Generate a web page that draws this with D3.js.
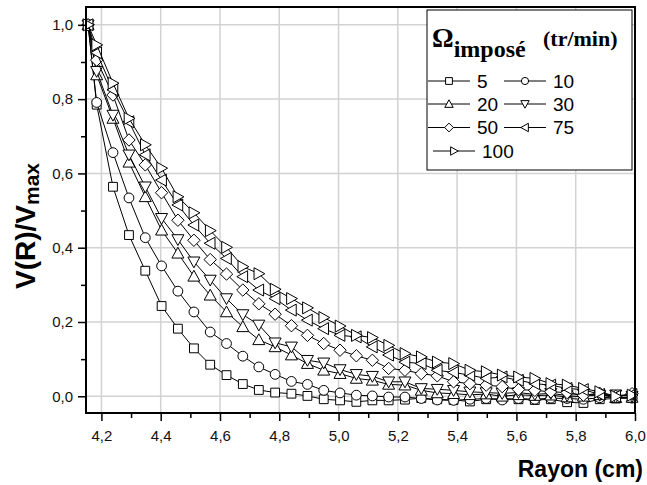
<!DOCTYPE html>
<html>
<head>
<meta charset="utf-8">
<script src="https://cdn.jsdelivr.net/npm/d3@7"></script>
<style>
  html, body { margin: 0; padding: 0; background: #fff; }
  #chart svg { display: block; }
  .tick-label { font-family: "Liberation Sans", Arial, sans-serif; font-size: 15px; fill: #111; }
</style>
</head>
<body>
<div id="chart"></div>
<script>
// Rayon (cm) - wall point first, then the measured radii
const RAYON = [4.155, 4.184, 4.239, 4.293, 4.348, 4.403, 4.458, 4.512, 4.567, 4.622, 4.677,
  4.731, 4.786, 4.841, 4.895, 4.950, 5.005, 5.060, 5.114, 5.169, 5.224, 5.279, 5.333,
  5.388, 5.443, 5.498, 5.552, 5.607, 5.662, 5.716, 5.771, 5.826, 5.881, 5.935, 5.990];

const V_5 = [1.0, 0.785, 0.564, 0.434, 0.338, 0.243, 0.182, 0.129, 0.085, 0.057, 0.033,
  0.017, 0.010, 0.007, 0.001, -0.008, -0.011, -0.015, -0.011, -0.011, -0.009, -0.005,
  -0.008, -0.010, -0.014, -0.008, -0.006, -0.008, -0.010, -0.008, -0.016, -0.018, -0.008, -0.006, -0.005];
const V_10 = [1.0, 0.791, 0.656, 0.534, 0.427, 0.351, 0.283, 0.227, 0.173, 0.142, 0.108,
  0.079, 0.059, 0.040, 0.032, 0.016, 0.009, 0.003, 0.001, -0.002, -0.002, -0.006,
  -0.010, -0.011, -0.008, -0.006, -0.010, -0.006, -0.008, -0.005, -0.006, -0.008, -0.004, -0.002, -0.005];
const V_20 = [1.0, 0.865, 0.748, 0.630, 0.537, 0.447, 0.385, 0.323, 0.272, 0.227, 0.187,
  0.152, 0.133, 0.111, 0.088, 0.070, 0.061, 0.048, 0.043, 0.032, 0.030, 0.016,
  0.009, 0.007, 0.004, 0.006, 0.000, 0.004, 0.002, 0.003, -0.002, 0.000, 0.004, -0.004, -0.003];
const V_30 = [1.0, 0.875, 0.757, 0.650, 0.564, 0.479, 0.422, 0.362, 0.313, 0.263, 0.220,
  0.192, 0.144, 0.133, 0.097, 0.090, 0.072, 0.059, 0.054, 0.039, 0.039, 0.021,
  0.019, 0.016, 0.012, 0.010, 0.008, 0.010, 0.005, 0.008, 0.002, 0.006, 0.003, 0.004, 0.000];
const V_50 = [1.0, 0.905, 0.811, 0.690, 0.623, 0.548, 0.474, 0.420, 0.368, 0.329, 0.286,
  0.249, 0.221, 0.190, 0.164, 0.142, 0.124, 0.109, 0.097, 0.075, 0.070, 0.061,
  0.055, 0.039, 0.034, 0.030, 0.026, 0.018, 0.016, 0.012, 0.010, 0.003, 0.008, 0.000, 0.007];
const V_75 = [1.0, 0.925, 0.825, 0.739, 0.650, 0.582, 0.515, 0.461, 0.412, 0.371, 0.322,
  0.286, 0.263, 0.232, 0.205, 0.182, 0.164, 0.160, 0.133, 0.111, 0.092, 0.088,
  0.070, 0.064, 0.057, 0.048, 0.052, 0.043, 0.034, 0.030, 0.021, 0.018, 0.005, 0.000, 0.005];
const V_100 = [1.0, 0.946, 0.843, 0.748, 0.677, 0.614, 0.537, 0.494, 0.446, 0.401, 0.349,
  0.330, 0.288, 0.263, 0.238, 0.212, 0.189, 0.164, 0.158, 0.137, 0.115, 0.106,
  0.092, 0.088, 0.070, 0.066, 0.057, 0.052, 0.048, 0.034, 0.030, 0.021, 0.012, 0.000, 0.003];

const SERIES_LABELS = ["5", "10", "20", "30", "50", "75", "100"];
const SERIES_VALUES = [V_5, V_10, V_20, V_30, V_50, V_75, V_100];
const SERIES_SHAPES = ["square", "circle", "up", "down", "diamond", "left", "right"];

const X_TICKS = [4.2, 4.4, 4.6, 4.8, 5.0, 5.2, 5.4, 5.6, 5.8, 6.0];
const X_MINOR = [4.3, 4.5, 4.7, 4.9, 5.1, 5.3, 5.5, 5.7, 5.9];
const Y_TICKS = [0.0, 0.2, 0.4, 0.6, 0.8, 1.0];
const Y_MINOR = [0.1, 0.3, 0.5, 0.7, 0.9];

// custom d3 symbol types, "size" is used as half width in px
const SHAPES = {
  square: { draw(c, h) { c.rect(-h, -h, 2 * h, 2 * h); } },
  circle: { draw(c, h) { c.moveTo(h, 0); c.arc(0, 0, h, 0, 2 * Math.PI); } },
  up: { draw(c, h) { c.moveTo(0, -h); c.lineTo(h, h * 0.8); c.lineTo(-h, h * 0.8); c.closePath(); } },
  down: { draw(c, h) { c.moveTo(0, h); c.lineTo(h, -h * 0.8); c.lineTo(-h, -h * 0.8); c.closePath(); } },
  left: { draw(c, h) { c.moveTo(-h, 0); c.lineTo(h * 0.8, -h); c.lineTo(h * 0.8, h); c.closePath(); } },
  right: { draw(c, h) { c.moveTo(h, 0); c.lineTo(-h * 0.8, -h); c.lineTo(-h * 0.8, h); c.closePath(); } },
  diamond: { draw(c, h) { c.moveTo(0, -h); c.lineTo(h, 0); c.lineTo(0, h); c.lineTo(-h, 0); c.closePath(); } }
};
const PLOT_SIZE = { square: 4.4, circle: 4.9, up: 6, down: 6, diamond: 6.2, left: 6, right: 6 };
const LEGEND_SIZE = { square: 3.4, circle: 3.6, up: 4.2, down: 4.2, diamond: 4.4, left: 4.2, right: 4.2 };

renderChart();

function renderChart() {
  const W = 647, H = 485;
  const plot = { left: 86, right: 635, top: 7, bottom: 413 };
  const sans = "'Liberation Sans', Arial, sans-serif";
  const serif = "'Liberation Serif', 'Times New Roman', serif";

  const svg = d3.select("#chart").append("svg")
    .attr("width", W)
    .attr("height", H);

  const x = d3.scaleLinear().domain([4.148, 6.0]).range([plot.left, plot.right]);
  const y = d3.scaleLinear().domain([-0.045, 1.048]).range([plot.bottom, plot.top]);
  const fmt = d => d3.format(".1f")(d).replace(".", ",");

  // grid
  svg.append("g")
    .selectAll("line")
    .data(X_TICKS.filter(d => d < 6))
    .join("line")
    .attr("x1", d => x(d)).attr("x2", d => x(d))
    .attr("y1", plot.top).attr("y2", plot.bottom)
    .attr("stroke", "#d2d2d2").attr("stroke-width", 1.5);
  svg.append("g")
    .selectAll("line")
    .data(Y_TICKS)
    .join("line")
    .attr("x1", plot.left).attr("x2", plot.right)
    .attr("y1", d => y(d)).attr("y2", d => y(d))
    .attr("stroke", "#d2d2d2").attr("stroke-width", 1.5);

  // series: line then open markers
  const line = d3.line().x((d, i) => x(RAYON[i])).y(d => y(d));
  SERIES_VALUES.forEach((vals, k) => {
    const shape = SERIES_SHAPES[k];
    const g = svg.append("g").attr("class", "series-" + SERIES_LABELS[k]);
    g.append("path")
      .datum(vals)
      .attr("d", line)
      .attr("fill", "none")
      .attr("stroke", "#000")
      .attr("stroke-width", 1);
    g.selectAll("path.mark")
      .data(vals)
      .join("path")
      .attr("class", "mark")
      .attr("transform", (d, i) => `translate(${x(RAYON[i])},${y(d)})`)
      .attr("d", d3.symbol().type(SHAPES[shape]).size(PLOT_SIZE[shape]))
      .attr("fill", "#fff")
      .attr("stroke", "#000")
      .attr("stroke-width", 1);
  });

  // frame
  svg.append("rect")
    .attr("x", plot.left).attr("y", plot.top)
    .attr("width", plot.right - plot.left).attr("height", plot.bottom - plot.top)
    .attr("fill", "none").attr("stroke", "#000").attr("stroke-width", 2);

  // axes
  svg.append("g")
    .attr("transform", `translate(0,${plot.bottom})`)
    .call(d3.axisBottom(x).tickValues(X_MINOR).tickSize(5).tickFormat(""))
    .call(g => g.select(".domain").remove())
    .call(g => g.selectAll("line").attr("stroke-width", 1.5));
  svg.append("g")
    .attr("transform", `translate(0,${plot.bottom})`)
    .call(d3.axisBottom(x).tickValues(X_TICKS).tickSize(8).tickPadding(9).tickFormat(fmt))
    .call(g => g.select(".domain").remove())
    .call(g => g.selectAll("line").attr("stroke-width", 1.5))
    .call(g => g.selectAll("text").attr("class", "tick-label").attr("fill", null)
      .style("font-family", sans).style("font-size", "15px"));

  svg.append("g")
    .attr("transform", `translate(${plot.left},0)`)
    .call(d3.axisLeft(y).tickValues(Y_MINOR).tickSize(5).tickFormat(""))
    .call(g => g.select(".domain").remove())
    .call(g => g.selectAll("line").attr("stroke-width", 1.5));
  svg.append("g")
    .attr("transform", `translate(${plot.left},0)`)
    .call(d3.axisLeft(y).tickValues(Y_TICKS).tickSize(8).tickPadding(5).tickFormat(fmt))
    .call(g => g.select(".domain").remove())
    .call(g => g.selectAll("line").attr("stroke-width", 1.5))
    .call(g => g.selectAll("text").attr("class", "tick-label").attr("fill", null)
      .style("font-family", sans).style("font-size", "15px"));

  // axis titles
  svg.append("text")
    .attr("x", 643).attr("y", 477)
    .attr("text-anchor", "end")
    .attr("font-family", sans).attr("font-weight", "bold").attr("font-size", 23)
    .text("Rayon (cm)");

  const yTitle = svg.append("text")
    .attr("transform", "translate(35,226) rotate(-90)")
    .attr("text-anchor", "middle")
    .attr("font-family", sans).attr("font-weight", "bold").attr("font-size", 28);
  yTitle.append("tspan").text("V(R)/V");
  yTitle.append("tspan").attr("font-size", 21).attr("dy", 4).text("max");

  // legend
  const lg = svg.append("g");
  lg.append("rect")
    .attr("x", 427).attr("y", 10).attr("width", 205).attr("height", 160)
    .attr("fill", "#fff").attr("stroke", "#000").attr("stroke-width", 1);

  const title = lg.append("text")
    .attr("x", 432).attr("y", 47)
    .attr("font-family", serif).attr("font-weight", "bold");
  title.append("tspan").attr("font-size", 27).text("Ω");
  title.append("tspan").attr("font-size", 24).attr("dy", 10).text("imposé");
  title.append("tspan").attr("font-size", 22).attr("x", 543).attr("dy", -11).text("(tr/min)");

  const ROW_Y = [81, 104, 127.5, 151];
  const legendItems = SERIES_LABELS.map((lab, k) => ({
    lab,
    shape: SERIES_SHAPES[k],
    row: Math.floor(k / 2),
    col: k % 2
  }));
  const item = lg.selectAll("g.item")
    .data(legendItems)
    .join("g")
    .attr("class", "item")
    .attr("transform", d => {
      const x0 = d.row === 3 ? 433 : (d.col === 0 ? 428 : 504);
      return `translate(${x0},${ROW_Y[d.row]})`;
    });
  item.append("line")
    .attr("x1", 0).attr("x2", 42)
    .attr("stroke", "#000").attr("stroke-width", 1);
  item.append("path")
    .attr("transform", "translate(21,0)")
    .attr("d", d => d3.symbol().type(SHAPES[d.shape]).size(LEGEND_SIZE[d.shape])())
    .attr("fill", "#fff").attr("stroke", "#000").attr("stroke-width", 1);
  item.append("text")
    .attr("x", 49).attr("dy", "0.36em")
    .attr("font-family", sans).attr("font-size", 19)
    .text(d => d.lab);
}
</script>
</body>
</html>
